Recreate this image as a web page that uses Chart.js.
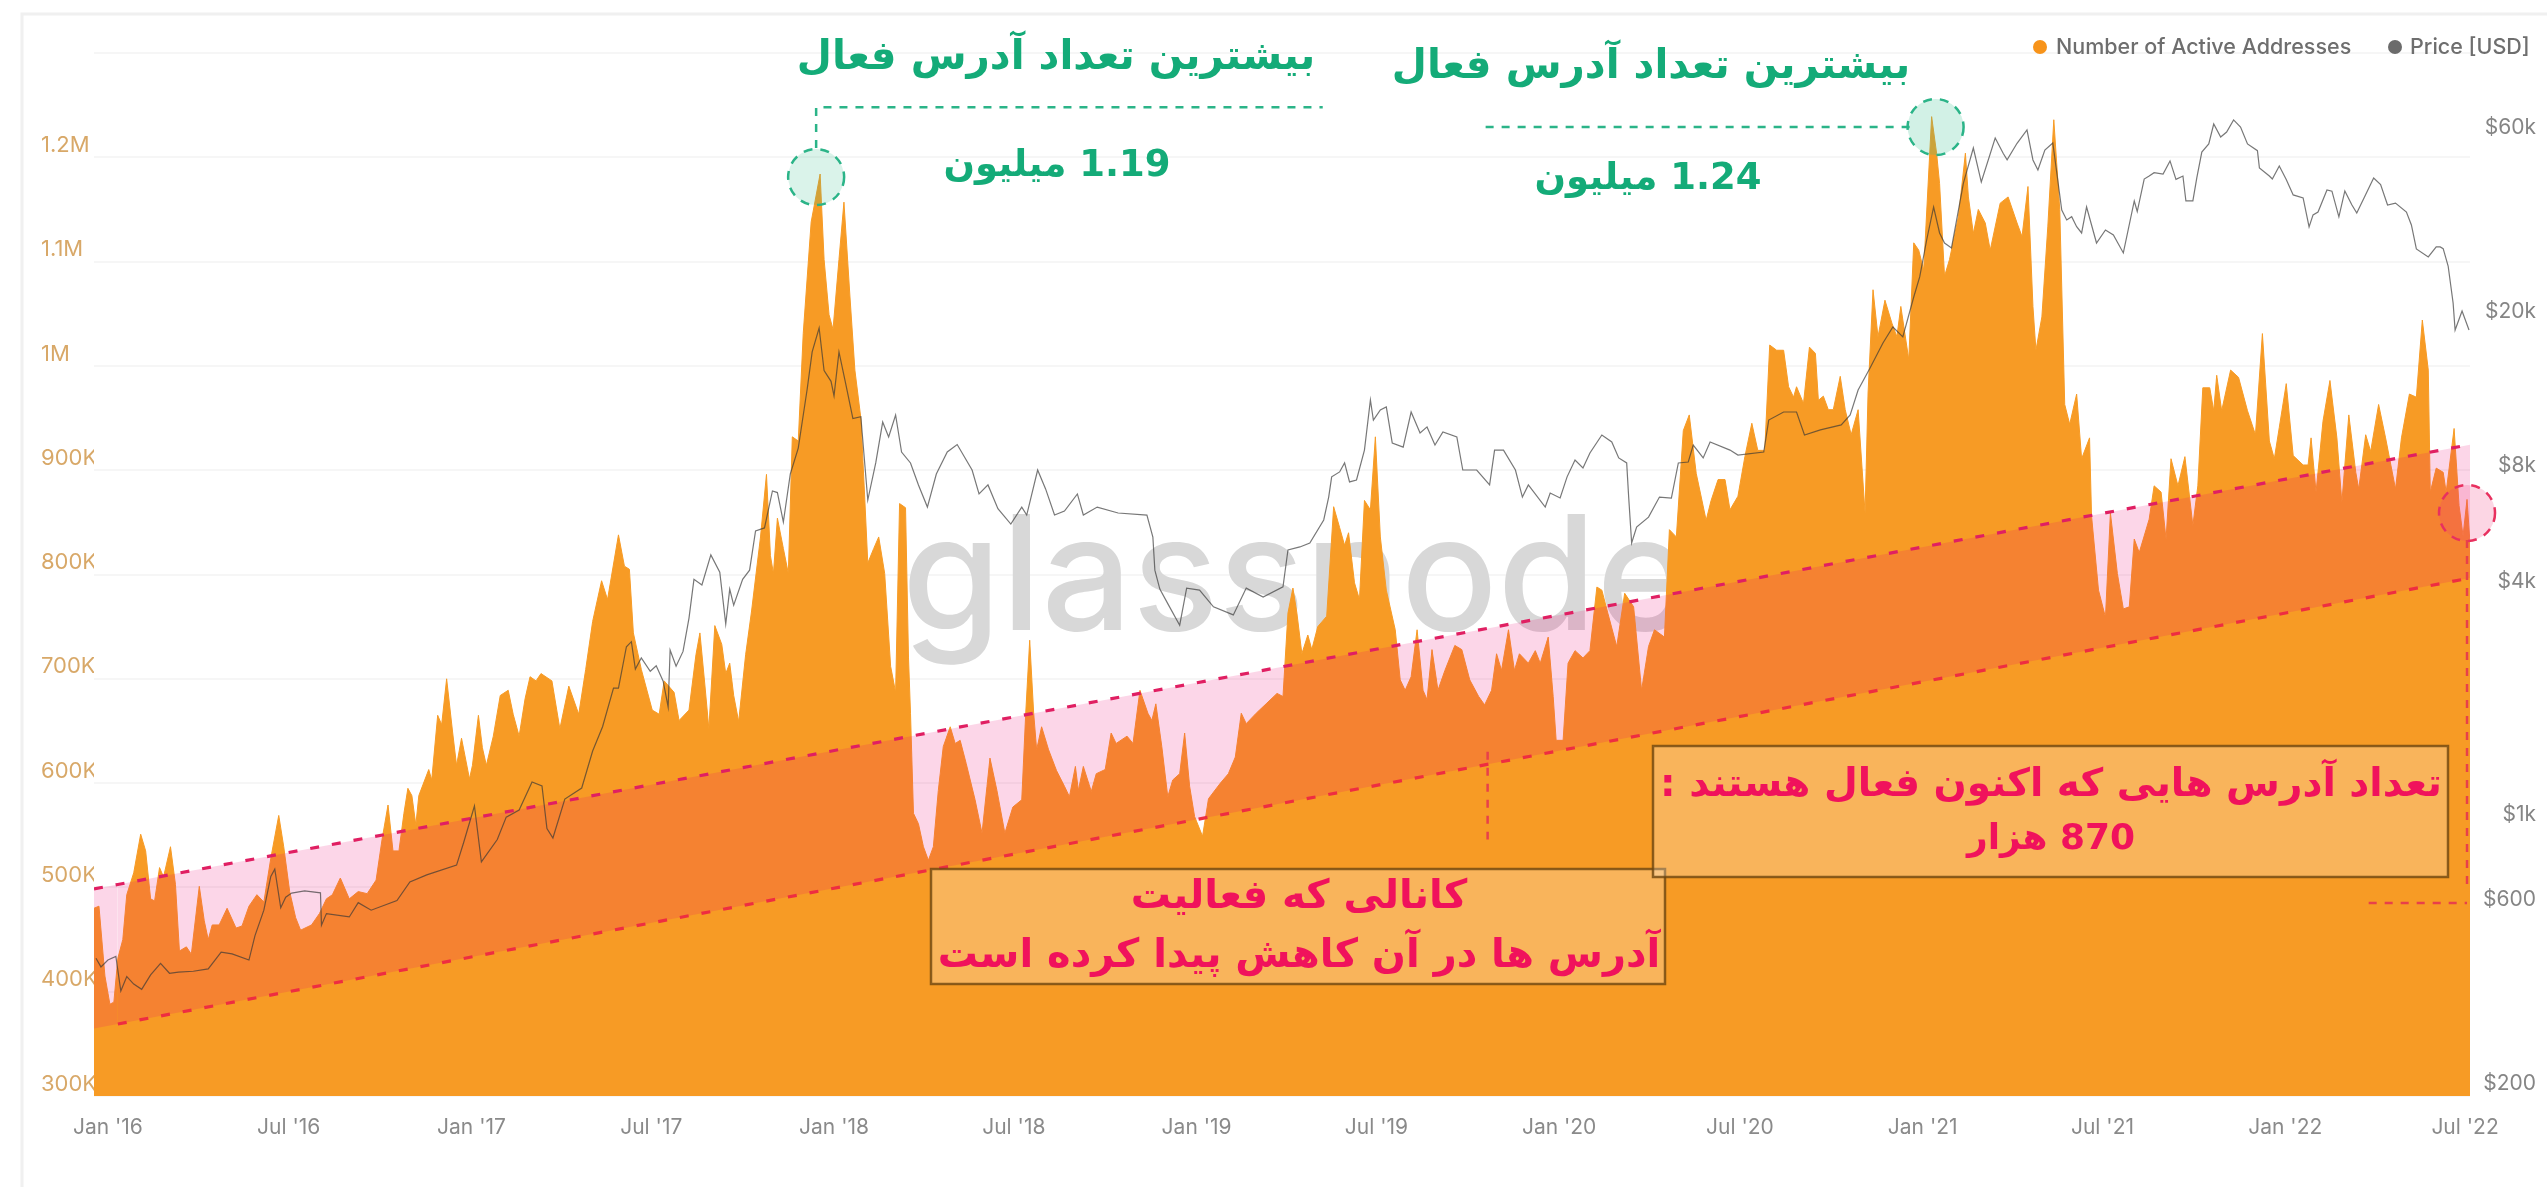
<!DOCTYPE html>
<html>
<head>
<meta charset="utf-8">
<style>
html, body { margin: 0; padding: 0; background: #fff; }
#chart { display: block; filter: blur(0.7px); }
</style>
<script src="https://cdn.jsdelivr.net/npm/chart.js@4/dist/chart.umd.js"></script>
</head>
<body>
<canvas id="chart" width="2547" height="1187"></canvas>
<script>
// x values are days since 1 Jan 2016
const addrDays = [
  -14,-9,-3,2,6,10,15,19,26,33,38,43,47,52,56,63,68,72,79,84,92,97,101,105,112,120,129,135,142,150,157,164,172,177,183,189,194,
  205,213,220,226,234,243,252,261,270,276,282,287,293,298,302,306,310,313,323,326,332,336,341,347,351,356,364,367,373,377,381,388,395,403,408,414,420,425,431,436,447,455,464,474,481,488,497,503,514,520,525,529,537,548,555,
  560,570,575,585,592,596,601,605,611,618,622,626,630,635,642,648,657,663,667,670,674,680,685,689,695,700,708,717,721,726,730,736,741,747,752,758,762,765,771,776,782,788,793,797,803,806,808,811,
  816,821,826,831,836,841,848,853,858,864,873,880,885,888,895,903,911,920,924,928,932,935,940,947,955,963,968,974,977,982,990,995,1004,1010,1015,1026,1032,1039,1047,1051,1055,1061,1067,1072,1079,1084,1089,1094,1102,1108,1120,1128,1135,1141,1146,1156,1166,1177,1183,1188,1193,1197,1202,1208,1212,1218,1227,1234,1240,1245,1249,1255,1260,1265,1271,1276,1281,1287,1296,1301,1306,1312,1318,1324,1328,1333,1339,1346,1356,1363,1371,1380,1386,1393,1398,1403,1410,1416,1421,1430,1437,1442,1450,1455,1458,1465,1470,1477,1485,1492,1499,1504,1510,1519,1527,1536,1544,1551,1557,1567,
  1572,1579,1586,1592,1599,1609,1614,1621,1628,1633,1641,1648,1655,1661,1668,1673,1680,1687,1692,1697,1700,1707,1713,1719,1722,1727,1732,1737,1744,1749,1755,1762,1769,1772,1777,1782,1789,1796,1801,1805,1813,1818,1823,1828,1836,1841,1844,1849,1854,1863,1870,1873,1878,1883,1890,1895,1905,1913,1922,1927,1933,1938,1941,1947,1953,1959,1965,
  1970,1975,1982,1987,1995,1997,2004,2011,2016,2023,2029,2035,2040,2045,2055,2060,2067,2072,2077,2084,2091,2099,2104,2109,2116,2120,2123,2128,2137,2145,2154,2162,2169,2176,2181,2186,2193,2200,2210,2215,2218,2223,2230,2237,2244,2249,2256,2263,2266,2273,2278,2286,2293,2303,2309,2317,2324,2330,2336,2338,2344,2351,2354,2362,2367,2371,2375,2378
];
// thousands of addresses
const addrValues = [
  480,482,415,388,390,432,450,493,514,551,535,489,487,519,510,539,503,439,443,436,501,468,450,464,464,480,461,463,482,493,486,528,569,539,496,471,459,
  464,475,489,493,509,489,496,494,507,546,579,535,535,571,595,588,560,588,613,603,665,656,700,649,617,643,604,617,665,634,617,645,684,689,666,645,681,702,698,705,698,652,693,666,709,755,794,776,838,808,805,744,709,670,666,
  698,687,660,670,723,744,694,652,751,733,705,715,684,659,723,765,836,896,818,801,854,825,801,932,928,1031,1138,1184,1102,1049,1035,1102,1157,1067,996,950,872,811,825,836,801,712,687,868,864,720,667,571,
  561,539,526,539,593,635,654,638,641,619,584,552,597,624,593,552,577,584,667,737,667,632,654,632,612,597,587,616,593,616,592,609,613,648,638,645,638,689,667,660,676,635,587,603,609,648,597,568,549,585,600,609,625,667,657,667,676,686,683,763,787,763,724,742,728,750,760,865,845,828,840,792,776,871,862,932,836,785,747,699,689,702,747,689,680,728,689,708,732,728,699,683,675,689,724,708,747,708,724,715,727,715,740,683,641,641,715,727,720,727,788,785,763,731,782,769,689,731,747,740,
  843,836,938,953,897,852,871,891,891,862,875,913,945,919,919,1020,1015,1015,980,970,980,964,1018,1012,967,971,958,958,990,958,934,958,859,974,1073,1028,1063,1041,1028,1057,1006,1118,1111,1092,1239,1204,1175,1086,1102,1143,1204,1162,1127,1150,1137,1111,1156,1162,1137,1124,1172,1057,1015,1047,1134,1236,1150,
  963,944,973,911,931,856,785,759,859,801,767,769,834,821,853,885,879,834,911,885,913,847,885,979,979,957,991,957,996,989,957,934,1031,928,911,941,983,914,905,905,931,879,947,986,931,869,953,898,882,934,918,963,931,882,931,973,970,1044,996,879,902,898,879,940,866,837,872,830
];

const priceDays = [
  -12,-7,0,8,13,19,26,34,43,53,62,71,86,101,114,125,142,148,157,164,168,174,179,185,198,214,215,220,243,252,265,291,304,321,351,358,369,376,392,401,414,427,437,442,448,460,477,488,498,509,514,522,527,531,537,546,
  552,559,564,566,572,579,585,590,598,607,616,622,626,630,639,646,652,661,669,674,680,687,695,704,709,716,721,728,731,736,743,750,758,765,773,780,786,793,799,808,816,825,834,845,855,870,877,886,896,909,920,925,936,944,953,963,976,982,996,1017,1046,1052,1054,1059,
  1067,1079,1086,1099,1113,1133,1146,1163,1183,1188,1200,1210,1224,1229,1232,1240,1245,1250,1257,1265,1271,1274,1281,1287,1293,1304,1312,1321,1328,1336,1344,1358,1364,1378,1391,1396,1405,1417,1424,1430,1447,1452,1462,1469,1477,1485,1492,1504,1514,1521,1529,1531,1534,1539,1551,1562,1574,1581,1591,1596,1606,1613,
  1633,1641,1667,1672,1687,1700,1708,1724,1745,1754,1762,1774,1787,1797,1807,1818,1824,1831,1838,1844,1849,1856,1868,1878,1886,1900,1908,1912,1922,1932,1938,1943,1950,1958,1967,1972,1977,1982,1987,1992,1997,2002,2011,2019,2029,
  2040,2043,2050,2055,2060,2069,2076,2082,2089,2092,2099,2103,2108,2115,2120,2127,2133,2140,2147,2154,2164,2166,2176,2179,2186,2193,2200,2210,2216,2220,2225,2234,2239,2246,2252,2259,2264,2273,2281,2288,2295,2303,2314,2319,2324,2336,2344,2348,2351,2356,2361,2363,2370,2377
];
const priceValues = [
  455,432,450,460,374,408,390,378,412,441,416,419,421,427,472,467,450,520,606,741,774,615,655,671,680,672,554,594,582,634,606,642,717,748,793,905,1128,808,924,1056,1101,1302,1272,986,932,1176,1256,1566,1810,2280,2280,2918,3007,2555,2730,2520,
  2604,2376,2037,2862,2598,2838,3462,4362,4218,5046,4554,3342,4116,3738,4362,4608,5820,5928,7392,7320,6138,8178,9546,13578,16938,19536,15168,14214,13032,16938,13908,11388,11514,7002,8736,11148,10200,11628,9324,8736,7662,6714,8178,9324,9750,8376,7260,7662,6648,6066,6714,6402,8376,7482,6402,6558,7260,6402,6714,6480,6402,5616,4608,4116,
  3774,3318,4140,4092,3702,3528,4140,3924,4170,5196,5292,5418,6216,7128,8040,8280,8736,7800,7890,9432,12720,11280,11982,12198,9840,9600,11838,10446,10830,9720,10512,10200,8376,8376,7662,9432,9432,8376,7128,7662,6714,7302,7086,8040,8892,8478,9270,10320,9900,9000,8736,7128,5418,5958,6324,7128,7086,8736,8784,9720,9000,9900,
  9432,9156,9324,11280,11838,11838,10320,10638,10962,11628,13500,15390,17874,19656,18528,23508,26502,33030,40218,34446,32442,31500,46404,57186,46680,60720,55400,53268,58810,63708,53260,50166,56520,58932,39504,37230,37970,35770,34446,40218,36130,32442,35060,34040,30582,
  41694,39150,47526,48380,49370,48978,52950,47420,48380,41694,41694,47900,55830,58600,66000,61080,62900,67620,64820,58578,56290,50772,48380,47526,51384,47420,43224,42450,35706,38370,39030,44538,44200,37914,44274,40760,38796,43310,47820,45990,40704,41180,39030,36130,31320,29856,31690,31698,31370,28284,22680,19302,21636,19302
];

const channelDays = [-14, 10, 2378];
const channelUpper = [498.5, 502.8, 924.5];
const channelLower = [364.6, 369, 796.6];

const xTickDays = [0, 182, 366, 547, 731, 912, 1096, 1277, 1461, 1643, 1827, 2008, 2192, 2373];
const xTickLabels = ["Jan '16", "Jul '16", "Jan '17", "Jul '17", "Jan '18", "Jul '18", "Jan '19", "Jul '19", "Jan '20", "Jul '20", "Jan '21", "Jul '21", "Jan '22", "Jul '22"];
const priceTicks = [200, 600, 1000, 4000, 8000, 20000, 60000];

const ORANGE = '#f79b25';
const GREEN = '#14ab78';
const RED = '#f0125c';
const FA_FONT = '"DejaVu Sans"';

function points(xs, ys) {
  return xs.map((x, i) => ({ x: x, y: ys[i] }));
}

function priceLabel(v) {
  return v >= 1000 ? '$' + (v / 1000) + 'k' : '$' + v;
}

function dashedPath(ctx, pts, color, width) {
  ctx.save();
  ctx.strokeStyle = color;
  ctx.lineWidth = width;
  ctx.setLineDash([8, 8]);
  ctx.beginPath();
  pts.forEach((p, i) => i === 0 ? ctx.moveTo(p.x, p.y) : ctx.lineTo(p.x, p.y));
  ctx.stroke();
  ctx.restore();
}

function circle(ctx, p, fill, stroke) {
  ctx.save();
  ctx.fillStyle = fill;
  ctx.strokeStyle = stroke;
  ctx.lineWidth = 2.5;
  ctx.setLineDash([9, 8]);
  ctx.beginPath();
  ctx.arc(p.x, p.y, 28, 0, Math.PI * 2);
  ctx.fill();
  ctx.stroke();
  ctx.restore();
}

function box(ctx, x, y, w, h) {
  ctx.save();
  ctx.fillStyle = 'rgba(255,255,255,0.25)';
  ctx.fillRect(x, y, w, h);
  ctx.strokeStyle = 'rgba(110,70,15,0.8)';
  ctx.lineWidth = 2.5;
  ctx.strokeRect(x, y, w, h);
  ctx.restore();
}

function faText(ctx, text, x, y, size, color) {
  ctx.save();
  ctx.direction = 'rtl';
  ctx.textAlign = 'center';
  ctx.textBaseline = 'middle';
  ctx.font = 'bold ' + size + 'px ' + FA_FONT;
  ctx.fillStyle = color;
  ctx.fillText(text, x, y);
  ctx.restore();
}

// card outline and the watermark, under the marks
const backdrop = {
  id: 'backdrop',
  beforeDatasetsDraw(chart) {
    const ctx = chart.ctx;
    ctx.save();
    ctx.strokeStyle = '#f0f0f0';
    ctx.lineWidth = 3;
    ctx.beginPath();
    ctx.moveTo(22, 1187);
    ctx.lineTo(22, 14);
    ctx.lineTo(2547, 14);
    ctx.stroke();
    ctx.fillStyle = '#d8d8d8';
    ctx.font = '500 160px Inter';
    ctx.textAlign = 'left';
    ctx.textBaseline = 'alphabetic';
    ctx.fillText('glassnode', 902, 630);
    ctx.restore();
  }
};

// legend, peak markers, boxes and Persian notes on top
const notes = {
  id: 'notes',
  afterDatasetsDraw(chart) {
    const ctx = chart.ctx;
    const sx = chart.scales.x;
    const sy = chart.scales.y;
    const at = (day, k) => ({ x: sx.getPixelForValue(day), y: sy.getPixelForValue(k) });

    circle(ctx, at(713, 1181), 'rgba(50,190,140,0.18)', '#2bb488');
    circle(ctx, at(1840, 1229), 'rgba(50,190,140,0.22)', '#2bb488');
    circle(ctx, at(2375, 859), 'rgba(240,50,120,0.2)', '#e8305f');

    dashedPath(ctx, [at(713, 1209), at(713, 1248), at(1223, 1248)], '#2bb488', 2.5);
    dashedPath(ctx, [at(1387, 1229), at(1814, 1229)], '#2bb488', 2.5);
    dashedPath(ctx, [at(2375, 833), at(2375, 497)], '#e8404a', 2.5);
    dashedPath(ctx, [at(2276, 485), at(2375, 485)], '#e8404a', 2.5);
    dashedPath(ctx, [at(1389, 630), at(1389, 546)], '#e8404a', 2.5);

    box(ctx, 931, 869, 734, 115);
    box(ctx, 1653, 746, 795, 131);

    faText(ctx, 'بیشترین تعداد آدرس فعال', 1056, 58, 40.5, GREEN);
    faText(ctx, '1.19 میلیون', 1057, 166, 37, GREEN);
    faText(ctx, 'بیشترین تعداد آدرس فعال', 1651, 67, 40.5, GREEN);
    faText(ctx, '1.24 میلیون', 1648, 179, 37, GREEN);
    faText(ctx, 'کانالی که فعالیت', 1299, 898, 40, RED);
    faText(ctx, 'آدرس ها در آن کاهش پیدا کرده است', 1299, 957, 40, RED);
    faText(ctx, 'تعداد آدرس هایی که اکنون فعال هستند :', 2051, 786, 39, RED);
    faText(ctx, '870 هزار', 2051, 840, 36, RED);

    ctx.save();
    ctx.font = '500 21.5px Inter';
    ctx.textAlign = 'left';
    ctx.textBaseline = 'middle';
    ctx.fillStyle = '#6e6e6e';
    ctx.fillText('Number of Active Addresses', 2056, 48);
    ctx.fillText('Price [USD]', 2410, 48);
    ctx.fillStyle = '#f7931a';
    ctx.beginPath();
    ctx.arc(2040, 47, 7, 0, Math.PI * 2);
    ctx.fill();
    ctx.fillStyle = '#6b6b6b';
    ctx.beginPath();
    ctx.arc(2395, 47, 7, 0, Math.PI * 2);
    ctx.fill();
    ctx.restore();
  }
};

new Chart(document.getElementById('chart'), {
  type: 'line',
  data: {
    datasets: [
      {
        label: 'Number of Active Addresses',
        data: points(addrDays, addrValues),
        yAxisID: 'y',
        borderColor: ORANGE,
        borderWidth: 1,
        backgroundColor: ORANGE,
        fill: 'start',
        pointRadius: 0,
        tension: 0,
        order: 5
      },
      {
        label: 'Channel top',
        data: points(channelDays, channelUpper),
        yAxisID: 'y',
        borderColor: '#e01f62',
        borderWidth: 3.2,
        borderDash: [9, 13],
        backgroundColor: 'rgba(237,0,112,0.16)',
        fill: '+1',
        pointRadius: 0,
        order: 3
      },
      {
        label: 'Channel bottom',
        data: points(channelDays, channelLower),
        yAxisID: 'y',
        borderColor: '#ee2d41',
        borderWidth: 3.2,
        borderDash: [9, 13],
        fill: false,
        pointRadius: 0,
        segment: {
          borderColor: c => c.p0DataIndex === 0 ? 'transparent' : undefined
        },
        order: 2
      },
      {
        label: 'Price [USD]',
        data: points(priceDays, priceValues),
        yAxisID: 'price',
        borderColor: 'rgba(55,55,55,0.68)',
        borderWidth: 1.2,
        fill: false,
        pointRadius: 0,
        tension: 0,
        order: 1
      }
    ]
  },
  options: {
    responsive: false,
    animation: false,
    layout: { autoPadding: false, padding: { left: 41, right: 11, top: 53, bottom: 0 } },
    plugins: { legend: { display: false }, tooltip: { enabled: false }, title: { display: false } },
    scales: {
      x: {
        type: 'linear',
        min: -14,
        max: 2378,
        border: { display: false },
        grid: { display: false },
        afterBuildTicks(scale) { scale.ticks = xTickDays.map(v => ({ value: v })); },
        afterFit(scale) { scale.height = 91; },
        ticks: {
          autoSkip: false,
          maxRotation: 0,
          padding: 11,
          color: '#8a8a8a',
          font: { family: 'Inter', size: 21 },
          callback: v => xTickLabels[xTickDays.indexOf(v)]
        }
      },
      y: {
        position: 'left',
        min: 300,
        max: 1300,
        border: { display: false },
        grid: { color: '#f6f6f6', lineWidth: 2, drawTicks: false },
        afterFit(scale) { scale.width = 53; },
        ticks: {
          stepSize: 100,
          crossAlign: 'far',
          labelOffset: -12,
          color: '#d8a868',
          font: { family: 'Inter', size: 22 },
          callback: v => v === 1300 ? '' : (v >= 1000 ? (v / 1000) + 'M' : v + 'K')
        }
      },
      price: {
        type: 'logarithmic',
        position: 'right',
        min: 200,
        max: 100800,
        border: { display: false },
        grid: { display: false },
        afterBuildTicks(scale) { scale.ticks = priceTicks.map(v => ({ value: v })); },
        afterFit(scale) { scale.width = 66; },
        ticks: {
          autoSkip: false,
          crossAlign: 'far',
          labelOffset: -12,
          color: '#858585',
          font: { family: 'Inter', size: 21 },
          callback: v => priceLabel(v)
        }
      }
    }
  },
  plugins: [backdrop, notes]
});
</script>
</body>
</html>
